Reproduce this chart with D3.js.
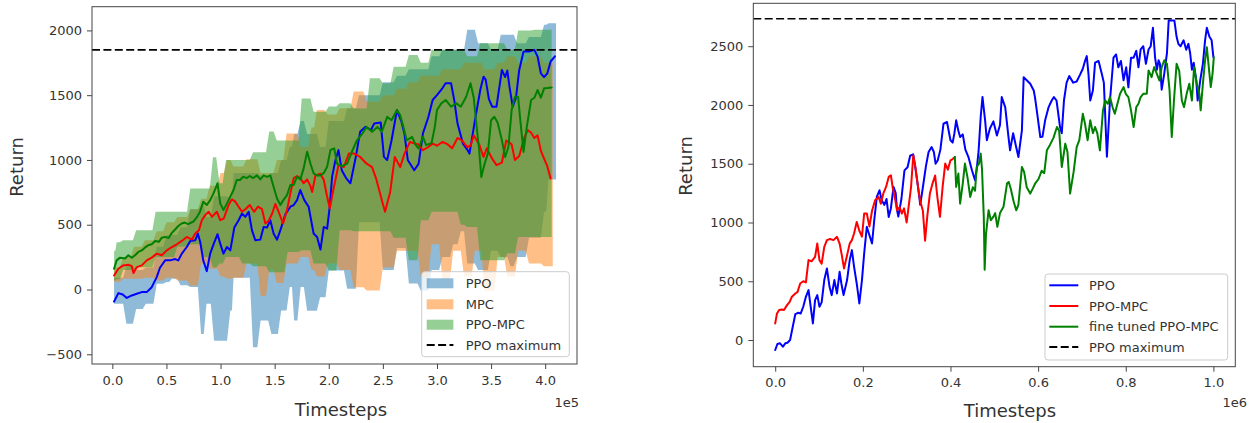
<!DOCTYPE html>
<html>
<head>
<meta charset="utf-8">
<script src="https://cdn.jsdelivr.net/npm/d3@7"></script>
<style>
  body { margin: 0; background: #fff; }
  svg text { font-family: "DejaVu Sans", sans-serif; fill: #333; }
</style>
</head>
<body>
<svg id="fig" width="1258" height="423"></svg>
<script>
// ---------- Left panel: training return, timesteps in units of 1e5 ----------
const leftTickX = [0.0, 0.5, 1.0, 1.5, 2.0, 2.5, 3.0, 3.5, 4.0];
const leftTickY = [-500, 0, 500, 1000, 1500, 2000];
const leftPpoMax = 1850;

// mean curves [timestep, return]
const leftPpo = [[0.016,-93],[0.056,-28],[0.096,-39],[0.133,-65],[0.18,-46],[0.226,-33],[0.272,-20],[0.318,-20],[0.364,18],[0.41,96],[0.44,168],[0.488,225],[0.534,225],[0.58,235],[0.61,225],[0.642,277],[0.688,328],[0.72,375],[0.766,380],[0.79,432],[0.812,367],[0.84,225],[0.873,142],[0.904,277],[0.935,349],[0.972,427],[0.997,354],[1.027,277],[1.059,328],[1.09,302],[1.127,478],[1.167,535],[1.198,587],[1.229,561],[1.26,600],[1.29,458],[1.321,380],[1.367,385],[1.398,483],[1.429,478],[1.46,535],[1.49,432],[1.522,385],[1.553,458],[1.6,582],[1.645,639],[1.676,652],[1.707,690],[1.737,768],[1.774,690],[1.814,639],[1.86,432],[1.892,406],[1.923,308],[1.954,483],[1.985,470],[2.009,639],[2.031,871],[2.062,1000],[2.09,1076],[2.12,921],[2.16,860],[2.2,820],[2.25,1024],[2.29,1217],[2.34,1256],[2.39,1230],[2.42,1282],[2.48,1290],[2.51,1024],[2.54,1000],[2.58,1150],[2.63,1385],[2.67,1300],[2.7,1200],[2.73,1000],[2.79,921],[2.83,970],[2.87,1204],[2.92,1330],[2.96,1463],[3.0,1500],[3.05,1553],[3.08,1592],[3.13,1592],[3.16,1460],[3.19,1281],[3.24,1126],[3.28,1080],[3.3,1049],[3.35,1300],[3.4,1540],[3.43,1643],[3.45,1620],[3.48,1470],[3.51,1411],[3.55,1411],[3.6,1695],[3.63,1640],[3.65,1690],[3.67,1566],[3.7,1411],[3.73,1480],[3.76,1695],[3.8,1837],[3.85,1837],[3.9,1850],[3.93,1798],[3.96,1669],[3.99,1640],[4.02,1669],[4.05,1760],[4.09,1800]];

const leftMpc = [[0.016,108],[0.056,160],[0.1,186],[0.148,191],[0.18,180],[0.195,127],[0.226,173],[0.272,186],[0.318,225],[0.364,246],[0.41,277],[0.457,264],[0.503,302],[0.55,328],[0.596,349],[0.642,375],[0.688,406],[0.735,385],[0.766,432],[0.8,458],[0.827,535],[0.858,574],[0.89,600],[0.92,561],[0.966,600],[0.997,535],[1.03,548],[1.074,652],[1.105,696],[1.136,678],[1.167,639],[1.198,600],[1.229,619],[1.27,652],[1.31,600],[1.346,639],[1.383,620],[1.414,509],[1.445,530],[1.477,587],[1.506,660],[1.537,600],[1.578,509],[1.614,613],[1.645,742],[1.676,860],[1.707,876],[1.737,860],[1.768,820],[1.8,850],[1.83,800],[1.846,753],[1.877,881],[1.923,894],[1.954,845],[1.985,716],[2.01,626],[2.04,760],[2.09,960],[2.139,945],[2.185,1049],[2.23,1050],[2.29,1023],[2.35,971],[2.4,945],[2.44,850],[2.49,690],[2.52,600],[2.567,750],[2.61,1023],[2.66,945],[2.7,1049],[2.75,1140],[2.78,1130],[2.83,1120],[2.87,1075],[2.92,1100],[2.96,1126],[3.0,1110],[3.05,1139],[3.1,1120],[3.14,1090],[3.19,1170],[3.23,1152],[3.28,1100],[3.31,1110],[3.34,1190],[3.39,1120],[3.43,1023],[3.46,1090],[3.51,1010],[3.55,960],[3.6,980],[3.64,1150],[3.69,1120],[3.72,1000],[3.76,1030],[3.81,1180],[3.84,1230],[3.87,1210],[3.9,1170],[3.93,1190],[3.96,1070],[3.99,1010],[4.02,950],[4.05,857]];

const leftPpoMpc = [[0.016,160],[0.04,225],[0.071,246],[0.117,240],[0.148,264],[0.18,245],[0.21,264],[0.24,290],[0.272,302],[0.3,323],[0.33,341],[0.364,349],[0.395,375],[0.43,368],[0.457,400],[0.488,406],[0.52,398],[0.55,437],[0.58,463],[0.61,490],[0.64,509],[0.67,517],[0.7,505],[0.75,525],[0.78,556],[0.81,600],[0.84,678],[0.873,652],[0.904,690],[0.935,742],[0.972,820],[0.997,665],[1.027,613],[1.059,665],[1.09,716],[1.12,768],[1.15,845],[1.18,845],[1.21,871],[1.24,860],[1.27,876],[1.3,860],[1.337,881],[1.367,850],[1.398,881],[1.43,870],[1.46,881],[1.49,793],[1.522,703],[1.553,652],[1.58,690],[1.614,729],[1.645,807],[1.676,807],[1.707,871],[1.737,850],[1.768,935],[1.8,1064],[1.83,974],[1.86,897],[1.89,880],[1.923,880],[1.954,900],[1.985,948],[2.016,1077],[2.05,1090],[2.077,971],[2.12,950],[2.17,971],[2.22,1075],[2.26,1152],[2.31,1204],[2.35,1255],[2.4,1217],[2.45,1255],[2.49,1217],[2.54,1333],[2.58,1307],[2.63,1385],[2.66,1346],[2.69,1255],[2.72,1152],[2.77,1178],[2.8,1120],[2.83,1088],[2.87,1178],[2.9,1114],[2.95,1130],[2.98,1255],[3.0,1385],[3.04,1437],[3.08,1463],[3.13,1411],[3.18,1437],[3.22,1411],[3.27,1488],[3.31,1592],[3.34,1480],[3.36,1307],[3.39,1075],[3.41,868],[3.44,971],[3.47,1049],[3.5,1307],[3.53,1333],[3.56,1290],[3.6,1152],[3.63,1023],[3.66,1100],[3.69,1385],[3.72,1488],[3.75,1488],[3.77,1307],[3.8,1062],[3.83,1255],[3.87,1463],[3.9,1480],[3.93,1540],[3.96,1480],[3.99,1553],[4.02,1555],[4.06,1560]];

// spread bands [timestep, low, high], held until the next timestep
const leftPpoBand = [[0.016,-110,90],[0.13,-265,180],[0.22,-150,150],[0.31,-110,170],[0.41,44,330],[0.50,58,420],[0.55,84,420],[0.63,32,480],[0.72,20,620],[0.82,-344,650],[0.87,-110,560],[0.94,-395,720],[1.09,-162,700],[1.12,90,900],[1.30,-446,900],[1.37,-240,880],[1.47,-344,900],[1.56,-162,1000],[1.64,20,1100],[1.68,-240,1200],[1.74,20,1300],[1.80,-163,1200],[1.92,-60,1100],[2.00,146,1300],[2.17,5,1400],[2.28,520,1500],[2.50,150,1600],[2.63,320,1650],[2.74,46,1700],[2.85,-8,1700],[2.95,150,1800],[3.05,250,1850],[3.15,350,1850],[3.22,450,1850],[3.28,200,2005],[3.38,150,1900],[3.50,300,1850],[3.59,250,1966],[3.68,180,1966],[3.74,250,1900],[3.85,400,1950],[3.99,600,2044],[4.03,850,2056],[4.10,850,2056]];

const leftMpcBand = [[0.016,60,170],[0.10,84,250],[0.20,84,330],[0.30,90,380],[0.41,70,450],[0.50,90,520],[0.60,70,560],[0.72,30,620],[0.82,200,700],[0.90,160,800],[1.00,100,900],[1.06,84,1000],[1.12,90,950],[1.24,200,1006],[1.37,-50,900],[1.45,150,900],[1.52,50,1000],[1.61,200,1205],[1.74,250,1100],[1.84,150,1250],[1.89,100,1385],[1.99,200,1350],[2.10,150,1400],[2.23,18,1528],[2.35,-8,1450],[2.50,170,1500],[2.63,300,1550],[2.74,300,1600],[2.85,100,1650],[2.95,350,1650],[3.05,80,1700],[3.15,300,1700],[3.25,100,1750],[3.35,300,1750],[3.44,-10,1700],[3.56,250,1750],[3.65,100,1800],[3.75,300,1750],[3.85,200,1800],[3.99,180,1750],[4.07,180,1750]];

const leftPpoMpcBand = [[0.016,70,300],[0.04,80,365],[0.10,150,380],[0.22,172,458],[0.40,250,600],[0.60,330,600],[0.72,350,780],[0.84,250,780],[0.93,170,1020],[0.99,200,820],[1.05,250,1000],[1.20,200,1000],[1.30,180,1060],[1.45,134,1220],[1.52,134,1150],[1.62,290,1150],[1.75,303,1475],[1.86,200,1373],[2.00,146,1412],[2.10,457,1437],[2.23,450,1398],[2.38,450,1630],[2.50,450,1592],[2.60,400,1720],[2.74,225,1810],[2.85,534,1750],[2.95,600,1850],[3.22,500,1850],[3.28,483,1800],[3.40,225,1900],[3.58,225,1900],[3.65,280,1850],[3.75,405,2000],[3.90,405,2005],[4.06,405,2005]];

const leftLegend = ["PPO", "MPC", "PPO-MPC", "PPO maximum"];

// ---------- Right panel: long run, timesteps in units of 1e6 ----------
const rightTickX = [0.0, 0.2, 0.4, 0.6, 0.8, 1.0];
const rightTickY = [0, 500, 1000, 1500, 2000, 2500];
const rightPpoMax = 2733;

const rightPpo = [[0,-85],[0.005,-34],[0.011,-28],[0.0175,-57],[0.023,-28],[0.028,-23],[0.034,0],[0.04,113],[0.046,221],[0.053,232],[0.058,225],[0.064,283],[0.07,368],[0.076,425],[0.081,283],[0.086,141],[0.091,340],[0.096,382],[0.101,283],[0.106,320],[0.112,510],[0.118,609],[0.124,453],[0.129,382],[0.135,510],[0.141,396],[0.147,580],[0.151,481],[0.156,382],[0.164,510],[0.17,680],[0.175,765],[0.18,623],[0.186,481],[0.192,311],[0.198,510],[0.203,736],[0.209,963],[0.215,892],[0.221,821],[0.226,1019],[0.232,1220],[0.238,1274],[0.243,1189],[0.249,1150],[0.254,1200],[0.259,1047],[0.264,1120],[0.27,1303],[0.275,1250],[0.278,1105],[0.281,1050],[0.288,1200],[0.295,1443],[0.302,1470],[0.308,1568],[0.315,1580],[0.32,1460],[0.326,1300],[0.331,1150],[0.337,1300],[0.344,1480],[0.35,1600],[0.357,1642],[0.362,1600],[0.366,1500],[0.371,1530],[0.377,1620],[0.384,1840],[0.392,1855],[0.4,1700],[0.405,1680],[0.409,1760],[0.413,1869],[0.418,1780],[0.422,1727],[0.428,1750],[0.434,1620],[0.441,1557],[0.449,1444],[0.456,1359],[0.46,1460],[0.464,1600],[0.469,1900],[0.473,2068],[0.479,1869],[0.483,1700],[0.49,1800],[0.498,1860],[0.506,1740],[0.513,1830],[0.517,2067],[0.525,1980],[0.532,1740],[0.536,1614],[0.543,1760],[0.55,1640],[0.555,1557],[0.563,1784],[0.567,2236],[0.574,2210],[0.582,2180],[0.59,2123],[0.593,2060],[0.598,1925],[0.605,1727],[0.61,1730],[0.616,1869],[0.624,1982],[0.631,2038],[0.636,2067],[0.642,2038],[0.65,1812],[0.654,1760],[0.659,2038],[0.665,2190],[0.671,2246],[0.68,2190],[0.688,2200],[0.696,2260],[0.702,2308],[0.707,2374],[0.711,2416],[0.715,2260],[0.719,2038],[0.725,2123],[0.73,2360],[0.738,2374],[0.745,2270],[0.75,2190],[0.757,1560],[0.764,2038],[0.772,2402],[0.778,2430],[0.783,2320],[0.789,2374],[0.795,2210],[0.801,2320],[0.806,2150],[0.812,2402],[0.818,2402],[0.824,2460],[0.829,2320],[0.834,2472],[0.84,2500],[0.846,2350],[0.852,2472],[0.857,2500],[0.862,2656],[0.867,2400],[0.871,2300],[0.875,2380],[0.878,2350],[0.882,2130],[0.888,2270],[0.894,2440],[0.898,2718],[0.905,2718],[0.911,2718],[0.916,2580],[0.92,2520],[0.925,2500],[0.932,2550],[0.938,2470],[0.943,2520],[0.947,2440],[0.951,2300],[0.955,2360],[0.961,2210],[0.964,2038],[0.97,2210],[0.976,2350],[0.981,2550],[0.985,2656],[0.991,2580],[0.996,2550],[1.0,2407]];

const rightPpoMpc = [[0,141],[0.004,226],[0.009,255],[0.015,260],[0.02,255],[0.027,297],[0.033,325],[0.038,368],[0.046,396],[0.051,410],[0.057,481],[0.064,500],[0.07,490],[0.076,680],[0.083,670],[0.091,708],[0.096,821],[0.101,680],[0.106,650],[0.112,793],[0.118,850],[0.125,860],[0.133,850],[0.141,878],[0.147,820],[0.152,722],[0.157,609],[0.164,722],[0.17,820],[0.175,850],[0.18,906],[0.186,1005],[0.192,930],[0.198,880],[0.203,1076],[0.209,1076],[0.215,965],[0.221,1100],[0.228,1189],[0.236,1218],[0.241,1160],[0.247,1250],[0.253,1303],[0.259,1388],[0.264,1402],[0.268,1300],[0.274,1190],[0.278,1105],[0.284,1130],[0.289,1076],[0.294,1120],[0.3,1000],[0.305,1150],[0.31,1300],[0.315,1570],[0.32,1470],[0.326,1300],[0.331,1180],[0.337,1100],[0.342,845],[0.347,1050],[0.353,1246],[0.359,1331],[0.365,1400],[0.37,1218],[0.376,1048],[0.382,1300],[0.388,1501],[0.394,1450],[0.4,1529],[0.405,1540],[0.41,1557]];

const rightFineTuned = [[0.41,1557],[0.413,1303],[0.418,1416],[0.422,1161],[0.428,1330],[0.433,1501],[0.439,1380],[0.445,1218],[0.451,1300],[0.456,1270],[0.46,1472],[0.465,1500],[0.469,1586],[0.472,1450],[0.476,1048],[0.478,598],[0.481,900],[0.487,1105],[0.492,1019],[0.498,1050],[0.502,1080],[0.507,963],[0.513,1080],[0.521,1133],[0.529,1331],[0.533,1345],[0.538,1280],[0.544,1180],[0.55,1104],[0.555,1150],[0.563,1472],[0.568,1430],[0.574,1300],[0.582,1246],[0.588,1290],[0.593,1330],[0.601,1370],[0.608,1440],[0.614,1420],[0.62,1614],[0.627,1660],[0.635,1720],[0.643,1812],[0.648,1780],[0.654,1472],[0.662,1671],[0.667,1600],[0.673,1246],[0.681,1430],[0.688,1642],[0.694,1700],[0.702,1925],[0.707,1840],[0.713,1700],[0.719,1870],[0.725,1760],[0.73,1812],[0.735,1760],[0.741,1614],[0.748,1954],[0.753,2038],[0.759,2010],[0.764,2067],[0.77,1980],[0.775,1925],[0.781,2010],[0.787,2095],[0.795,2152],[0.8,2095],[0.806,2067],[0.812,1954],[0.818,1812],[0.824,1982],[0.829,2010],[0.834,2067],[0.84,2095],[0.848,2095],[0.852,2294],[0.859,2237],[0.865,2322],[0.871,2265],[0.877,2208],[0.882,2322],[0.888,2380],[0.894,2350],[0.9,2123],[0.905,1727],[0.91,2038],[0.916,2350],[0.922,2290],[0.928,2038],[0.933,1982],[0.939,2095],[0.945,2180],[0.951,2038],[0.956,2322],[0.962,2180],[0.968,2095],[0.971,1954],[0.976,2180],[0.981,2380],[0.985,2492],[0.991,2265],[0.994,2152],[0.998,2265],[1.001,2407]];

const rightLegend = ["PPO", "PPO-MPC", "fine tuned PPO-MPC", "PPO maximum"];

// ---------- drawing ----------
const svg = d3.select("#fig");
const TAB_BLUE = "#1f77b4", TAB_ORANGE = "#ff7f0e", TAB_GREEN = "#2ca02c";
const SPINE = "#444";

// each band row holds until the next row; the change happens over a short ramp
function holdWithRamp(rows, ramp) {
  const out = [];
  rows.forEach((r, i) => {
    out.push(r);
    const next = rows[i + 1];
    if (next) {
      const tEnd = Math.max(r[0], next[0] - Math.min(ramp, (next[0] - r[0]) * 0.5));
      out.push([tEnd, r[1], r[2]]);
    }
  });
  return out;
}

function drawPanel(p) {
  const x = d3.scaleLinear().domain(p.xDomain).range([p.box.left, p.box.right]);
  const y = d3.scaleLinear().domain(p.yDomain).range([p.box.bottom, p.box.top]);
  const g = svg.append("g");

  const clipId = "clip-" + p.id;
  svg.append("clipPath").attr("id", clipId).append("rect")
    .attr("x", p.box.left).attr("y", p.box.top)
    .attr("width", p.box.right - p.box.left).attr("height", p.box.bottom - p.box.top);
  const plot = g.append("g").attr("clip-path", `url(#${clipId})`);

  const area = d3.area().x(d => x(d[0])).y0(d => y(d[1])).y1(d => y(d[2]));
  (p.bands || []).forEach(b => {
    plot.append("path").datum(holdWithRamp(b.data, 0.03)).attr("d", area)
      .attr("fill", b.color).attr("fill-opacity", 0.5).attr("stroke", "none");
  });

  const line = d3.line().x(d => x(d[0])).y(d => y(d[1]));
  p.lines.forEach(l => {
    plot.append("path").datum(l.data).attr("d", line)
      .attr("fill", "none").attr("stroke", l.color).attr("stroke-width", 2)
      .attr("stroke-linejoin", "round").attr("stroke-linecap", "round");
  });

  plot.append("line")
    .attr("x1", p.box.left).attr("x2", p.box.right)
    .attr("y1", y(p.hline)).attr("y2", y(p.hline))
    .attr("stroke", "#000").attr("stroke-width", 1.6).attr("stroke-dasharray", "8,3.4");

  // axes
  const ax = g.append("g").attr("transform", `translate(0,${p.box.bottom})`)
    .call(d3.axisBottom(x).tickValues(p.xTicks).tickFormat(d3.format(".1f")).tickSize(5).tickPadding(6.5));
  const ay = g.append("g").attr("transform", `translate(${p.box.left},0)`)
    .call(d3.axisLeft(y).tickValues(p.yTicks).tickFormat(d3.format("d")).tickSize(5).tickPadding(5));
  [ax, ay].forEach(a => {
    a.select(".domain").remove();
    a.selectAll(".tick line").attr("stroke", SPINE).attr("stroke-width", 1);
    a.selectAll(".tick text").attr("font-size", 13).attr("fill", "#333")
      .attr("font-family", "DejaVu Sans, sans-serif");
  });

  g.append("rect")
    .attr("x", p.box.left).attr("y", p.box.top)
    .attr("width", p.box.right - p.box.left).attr("height", p.box.bottom - p.box.top)
    .attr("fill", "none").attr("stroke", SPINE).attr("stroke-width", 1);

  // labels
  g.append("text").attr("x", p.xLabel.x).attr("y", p.xLabel.y)
    .attr("text-anchor", "middle").attr("font-size", 18).text("Timesteps");
  g.append("text").attr("transform", `translate(${p.yLabel.x},${p.yLabel.y}) rotate(-90)`)
    .attr("text-anchor", "middle").attr("font-size", 18).text("Return");
  g.append("text").attr("x", p.scaleNote.x).attr("y", p.scaleNote.y)
    .attr("text-anchor", "end").attr("font-size", 13).text(p.scaleNote.text);

  // legend
  const L = p.legend;
  const lg = g.append("g");
  lg.append("rect").attr("x", L.x).attr("y", L.y).attr("width", L.w).attr("height", L.h)
    .attr("rx", 3).attr("fill", "#fff").attr("fill-opacity", 0.8)
    .attr("stroke", "#cccccc").attr("stroke-width", 1);
  L.items.forEach((it, i) => {
    const cy = L.rows[i];
    if (it.kind === "patch") {
      lg.append("rect").attr("x", L.hx).attr("y", cy - 5).attr("width", L.hw).attr("height", 10)
        .attr("fill", it.color).attr("fill-opacity", 0.5);
    } else {
      lg.append("line").attr("x1", L.hx).attr("x2", L.hx + L.hw).attr("y1", cy).attr("y2", cy)
        .attr("stroke", it.color).attr("stroke-width", 2)
        .attr("stroke-dasharray", it.dashed ? "8,3.4" : null);
    }
    lg.append("text").attr("x", L.tx).attr("y", cy).attr("dy", "0.36em")
      .attr("font-size", 13).text(it.label);
  });
}

drawPanel({
  id: "left",
  box: { left: 92, right: 577, top: 6.7, bottom: 364 },
  xDomain: [-0.188, 4.294], yDomain: [-575, 2183],
  xTicks: leftTickX, yTicks: leftTickY,
  bands: [
    { data: leftPpoBand, color: TAB_BLUE },
    { data: leftMpcBand, color: TAB_ORANGE },
    { data: leftPpoMpcBand, color: TAB_GREEN }
  ],
  lines: [
    { data: leftPpo, color: "#0000ff" },
    { data: leftMpc, color: "#ff0000" },
    { data: leftPpoMpc, color: "#008000" }
  ],
  hline: leftPpoMax,
  xLabel: { x: 341, y: 416 },
  yLabel: { x: 23, y: 167 },
  scaleNote: { x: 579, y: 407, text: "1e5" },
  legend: {
    x: 421.7, y: 271.7, w: 147.6, h: 85,
    hx: 426.7, hw: 26.7, tx: 465.7,
    rows: [283.3, 304.3, 324.7, 345],
    items: [
      { kind: "patch", color: TAB_BLUE, label: leftLegend[0] },
      { kind: "patch", color: TAB_ORANGE, label: leftLegend[1] },
      { kind: "patch", color: TAB_GREEN, label: leftLegend[2] },
      { kind: "line", color: "#000", dashed: true, label: leftLegend[3] }
    ]
  }
});

drawPanel({
  id: "right",
  box: { left: 753.3, right: 1235.3, top: 3.3, bottom: 366.7 },
  xDomain: [-0.05, 1.05], yDomain: [-227, 2865],
  xTicks: rightTickX, yTicks: rightTickY,
  bands: [],
  lines: [
    { data: rightPpo, color: "#0000ff" },
    { data: rightPpoMpc, color: "#ff0000" },
    { data: rightFineTuned, color: "#008000" }
  ],
  hline: rightPpoMax,
  xLabel: { x: 1010, y: 417 },
  yLabel: { x: 692, y: 166 },
  scaleNote: { x: 1247, y: 407, text: "1e6" },
  legend: {
    x: 1045, y: 274, w: 182.7, h: 86,
    hx: 1049.3, hw: 29, tx: 1089,
    rows: [285.3, 306, 326.7, 347],
    items: [
      { kind: "line", color: "#0000ff", label: rightLegend[0] },
      { kind: "line", color: "#ff0000", label: rightLegend[1] },
      { kind: "line", color: "#008000", label: rightLegend[2] },
      { kind: "line", color: "#000", dashed: true, label: rightLegend[3] }
    ]
  }
});
</script>
</body>
</html>
